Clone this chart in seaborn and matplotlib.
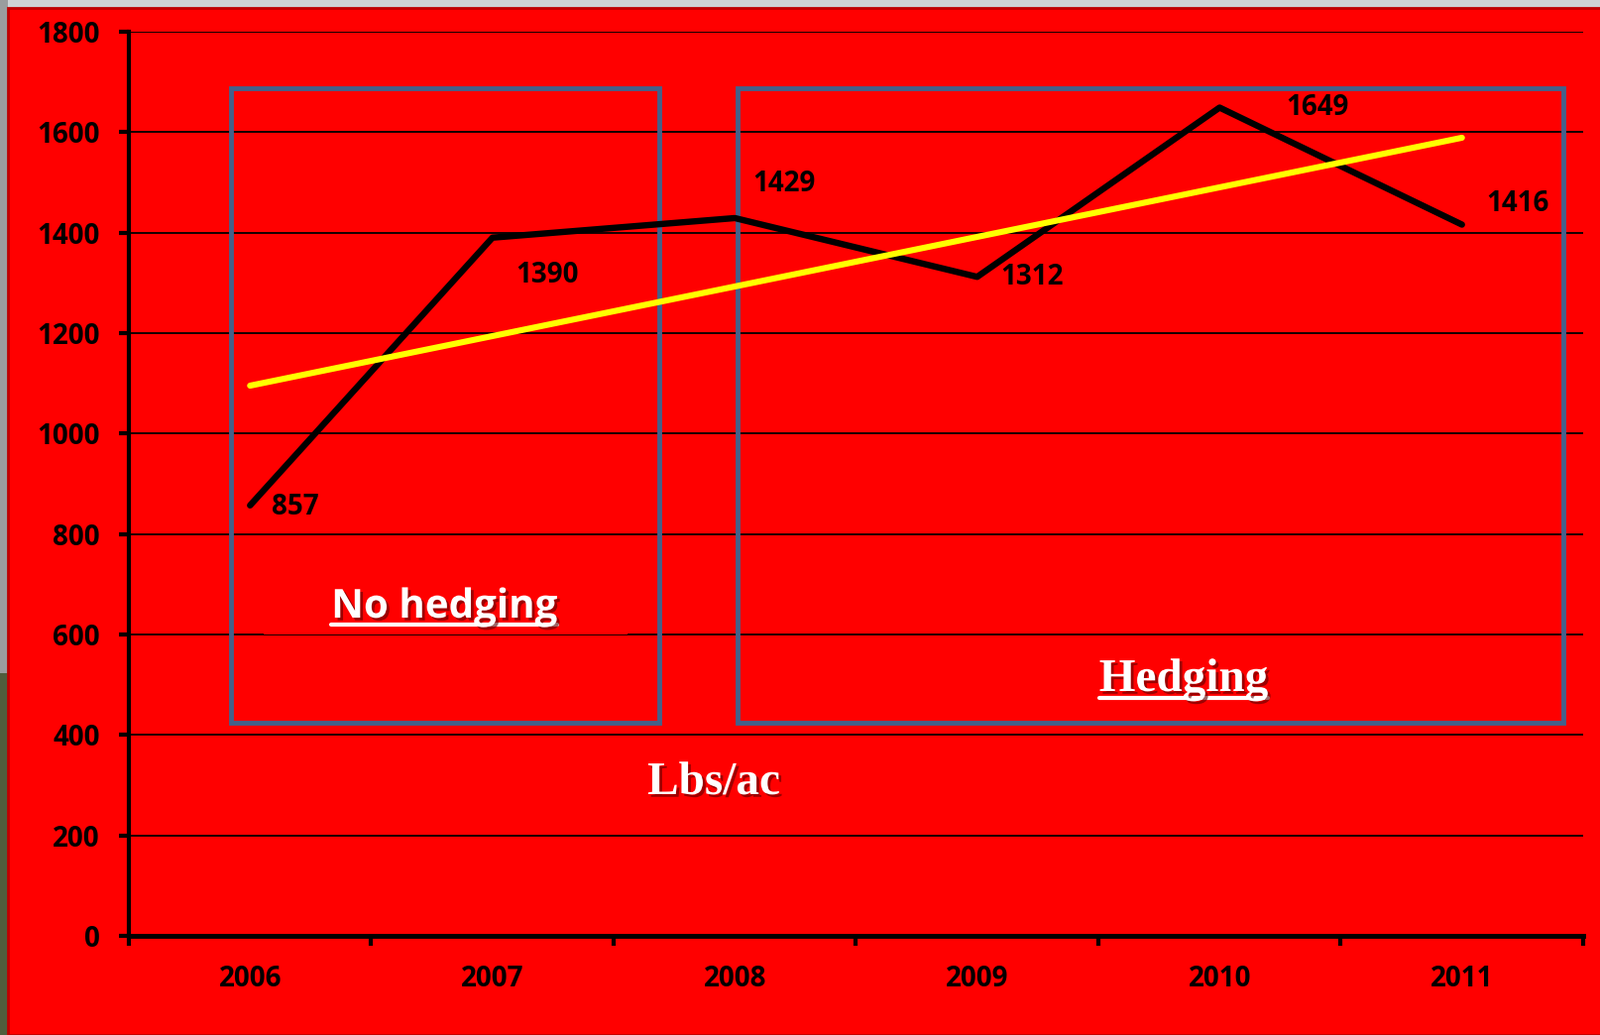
import matplotlib
matplotlib.use("Agg")
import matplotlib.pyplot as plt
import matplotlib.patheffects as pe
from matplotlib.patches import Rectangle
from matplotlib.lines import Line2D
import seaborn as sns
import pandas as pd

# -------------------------------
# Data
# -------------------------------
years = [2006, 2007, 2008, 2009, 2010, 2011]
yields = [857, 1390, 1429, 1312, 1649, 1416]
y_ticks = [0, 200, 400, 600, 800, 1000, 1200, 1400, 1600, 1800]

# label offsets (points) for the data labels, Excel-style placement
label_offsets = [(16, -1), (17, -27), (13, 25), (17, 0), (48, 0), (18, 15)]

df = pd.DataFrame({"year": years, "lbs": yields})

W, H = 1615, 1044
RED = "#FF0000"

sns.set_style("white")
plt.rcParams["font.family"] = ["Open Sans", "DejaVu Sans"]

fig = plt.figure(figsize=(W / 100, H / 100), dpi=100)
fig.patch.set_facecolor("#cfd3d5")

# photo-ish strips around the slide
fig.patches.append(Rectangle((0, 0), 8 / W, 0.35, transform=fig.transFigure,
                             facecolor="#4f5d3c", edgecolor="none", zorder=-5))
fig.patches.append(Rectangle((0, 0.35), 8 / W, 0.65, transform=fig.transFigure,
                             facecolor="#9a9d9e", edgecolor="none", zorder=-5))
fig.patches.append(Rectangle((8 / W, 0), 1, 1 - 8 / H, transform=fig.transFigure,
                             facecolor=RED, edgecolor="#C00000", lw=2, zorder=-5))

ax = fig.add_axes([130 / W, 1 - 944 / H, (1597 - 130) / W, (944 - 32) / H])
ax.set_facecolor(RED)

# -------------------------------
# Lines
# -------------------------------
sns.lineplot(data=df, x="year", y="lbs", ax=ax, color="black", lw=4.6,
             solid_capstyle="round", zorder=4)
sns.regplot(data=df, x="year", y="lbs", ax=ax, scatter=False, ci=None,
            truncate=True, line_kws=dict(color="#FFFF00", lw=4.4,
                                         solid_capstyle="round", zorder=5))

for yr, v, (dx, dy) in zip(years, yields, label_offsets):
    ax.annotate(str(v), (yr, v), xytext=(dx, dy), textcoords="offset points",
                ha="left", va="center", fontsize=20, fontweight="bold",
                color="black", zorder=6)

# -------------------------------
# Axes styling
# -------------------------------
ax.set_xlim(2005.5, 2011.5)
ax.set_ylim(0, 1800)
ax.set_xlabel("")
ax.set_ylabel("")

ax.set_xticks([y - 0.5 for y in years] + [2011.5])
ax.set_xticklabels([])
ax.set_xticks(years, minor=True)
ax.set_xticklabels([str(y) for y in years], minor=True)
ax.tick_params(axis="x", which="major", bottom=True, direction="out",
               length=7.2, width=3, color="black")
ax.tick_params(axis="x", which="minor", bottom=True, length=0, pad=21,
               labelsize=20)

ax.set_yticks(y_ticks)
ax.set_yticklabels([str(t) for t in y_ticks])
ax.tick_params(axis="y", left=True, direction="out", length=7.2, width=3,
               color="black", pad=14, labelsize=20)
for lab in ax.get_xticklabels(minor=True) + ax.get_yticklabels():
    lab.set_fontweight("bold")
    lab.set_color("black")

ax.grid(axis="y", color="black", lw=1.3, zorder=1)
ax.grid(axis="x", visible=False)
ax.set_axisbelow(True)
for s in ["top", "right"]:
    ax.spines[s].set_visible(False)
ax.spines["left"].set_linewidth(3)
ax.spines["bottom"].set_linewidth(3.5)
ax.spines["left"].set_color("black")
ax.spines["bottom"].set_color("black")
ax.spines["left"].set_zorder(7)
ax.spines["bottom"].set_zorder(7)

# -------------------------------
# Boxes and white texts (pixel coordinates of the slide)
# -------------------------------
def px_rect(x0, y0, x1, y1, **kw):
    r = Rectangle((x0 / W, 1 - y1 / H), (x1 - x0) / W, (y1 - y0) / H,
                  transform=fig.transFigure, clip_on=False, **kw)
    ax.add_patch(r)
    return r

box_color = "#44618A"
px_rect(233, 89, 665, 729, facecolor="none", edgecolor=box_color, lw=3.5,
        zorder=3)
px_rect(744, 89, 1577, 729, facecolor="none", edgecolor=box_color, lw=3.5,
        zorder=3)
# text box fill hiding the gridline behind "No hedging"
px_rect(266, 575, 633, 640, facecolor=RED, edgecolor="none", zorder=2)

shadow = [pe.SimplePatchShadow(offset=(2, -2), shadow_rgbFace="#5a0000",
                               alpha=0.6), pe.Normal()]

white_texts = [
    ("No hedging", 448, 623, ["Open Sans", "DejaVu Sans"], 29, True),
    ("Hedging", 1194, 697, ["Liberation Serif", "DejaVu Serif"], 34, True),
    ("Lbs/ac", 720, 801, ["Liberation Serif", "DejaVu Serif"], 34, False),
]
texts = []
for s, x, y, fam, size, under in white_texts:
    t = fig.text(x / W, 1 - y / H, s, ha="center", va="baseline",
                 family=fam, fontsize=size, fontweight="bold", color="white",
                 zorder=8, path_effects=shadow)
    texts.append((t, y, under))

fig.canvas.draw()
for t, y, under in texts:
    if not under:
        continue
    bb = t.get_window_extent()
    yl = 1 - (y + 7) / H
    fig.lines.append(Line2D([bb.x0 / W, bb.x1 / W], [yl, yl],
                            transform=fig.transFigure, color="white", lw=3,
                            zorder=8, path_effects=shadow))

fig.savefig("out.png", dpi=100, facecolor=fig.get_facecolor())
